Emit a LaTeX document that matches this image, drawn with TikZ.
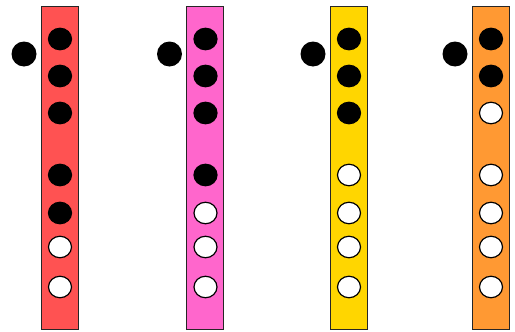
\documentclass[tikz,border=0pt]{standalone}
\usetikzlibrary{shapes.geometric, positioning}
\definecolor{tubered}{RGB}{255, 82, 82}
\definecolor{tubepink}{RGB}{255, 102, 204}
\definecolor{tubeyellow}{RGB}{255, 214, 0}
\definecolor{tubeorange}{RGB}{255, 153, 51}

\begin{document}
\begin{tikzpicture}[
  x=1pt, y=-1pt,
  tube/.style={draw=black!85, line width=1pt, rectangle, minimum width=37pt, minimum height=323pt, inner sep=0pt},
  hole/.style={ellipse, draw=black, line width=1.2pt, minimum width=23pt, minimum height=21.5pt, inner sep=0pt},
  holeshut/.style={hole, fill=black},
  holeopen/.style={hole, fill=white},
  ball/.style={circle, fill=black, minimum size=25pt, inner sep=0pt}
]
  \useasboundingbox (0,0) rectangle (515,332);
  \foreach \bx/\bcol/\nshut [count=\i] in {59.5/tubered/5, 205/tubepink/4, 348.5/tubeyellow/3, 490.5/tubeorange/2} {
    \node[tube, fill=\bcol] (tube\i) at (\bx,167.5) {};
    \node[ball] (ball\i) at (\bx-35.5,54) {};
    % holes, closed ones first
    \foreach \hy [count=\j] in {39, 76, 113, 175, 213, 247, 287} {
      \ifnum\j>\nshut \def\hstyle{holeopen}\else \def\hstyle{holeshut}\fi
      \node[\hstyle] (hole\i-\j) at (\bx+0.5,\hy) {};
    }
  }
\end{tikzpicture}
\end{document}
